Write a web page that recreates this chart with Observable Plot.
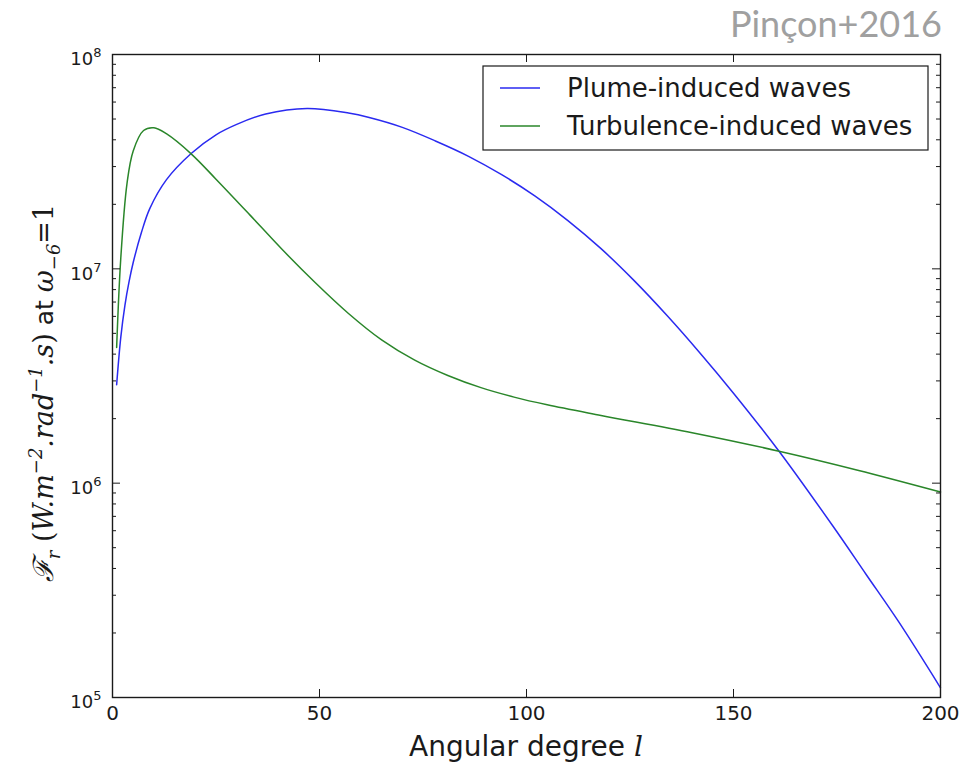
<!DOCTYPE html>
<html><head><meta charset="utf-8">
<script src="https://cdn.jsdelivr.net/npm/d3@7"></script>
<script src="https://cdn.jsdelivr.net/npm/@observablehq/plot@0.6"></script>
<style>body{margin:0;background:#fff;} #chart{width:973px;height:764px;}</style>
</head><body><div id="chart"></div>
<script>
// Angular degree l and flux values
const lPlume = [1, 2, 3, 4, 5, 7, 9, 13, 19, 25, 30, 37, 47, 57, 62, 70, 78, 86, 94, 102, 110, 118, 126, 134, 142, 150, 161, 174, 182, 190, 200];
const fPlume = [2.88e6, 4.79e6, 6.76e6, 8.71e6, 1.07e7, 1.48e7, 1.91e7, 2.6e7, 3.45e7, 4.22e7, 4.72e7, 5.28e7, 5.6e7, 5.33e7, 5.08e7, 4.57e7, 3.95e7, 3.35e7, 2.75e7, 2.19e7, 1.68e7, 1.242e7, 8.81e6, 6.04e6, 4.03e6, 2.63e6, 1.41e6, 6.31e5, 3.76e5, 2.24e5, 1.11e5];
const lTurb = [1, 2, 3.5, 5, 7.5, 10, 13, 19, 25, 33, 41, 49, 57, 65, 73, 81, 89, 97, 105, 118, 140, 161, 180, 200];
const fTurb = [4.3e6, 1.12e7, 2.5e7, 3.55e7, 4.42e7, 4.55e7, 4.27e7, 3.44e7, 2.62e7, 1.8e7, 1.23e7, 8.61e6, 6.19e6, 4.66e6, 3.75e6, 3.18e6, 2.79e6, 2.52e6, 2.32e6, 2.07e6, 1.72e6, 1.41e6, 1.15e6, 9.1e5];
const seriesNames = ["Plume-induced waves", "Turbulence-induced waves"];
const seriesColors = ["#2a2af0", "#2a862a"];
const xTicks = [0, 50, 100, 150, 200];
const yTicks = [1e5, 1e6, 1e7, 1e8];
const minorMultipliers = [2, 3, 4, 5, 6, 7, 8, 9];

const W = 973, H = 764, mL = 112, mR = 33, mT = 54, mB = 67;
const pw = W - mL - mR, ph = H - mT - mB;
const INK = "#1a1a1a";

const plume = lPlume.map((l, i) => ({l, f: fPlume[i]}));
const turb = lTurb.map((l, i) => ({l, f: fTurb[i]}));
const yMinor = yTicks.slice(0, -1).flatMap(d => minorMultipliers.map(m => m * d));

const svg = Plot.plot({
  width: W, height: H,
  marginLeft: mL, marginRight: mR, marginTop: mT, marginBottom: mB,
  x: {domain: [0, 200]},
  y: {type: "log", domain: [1e5, 1e8]},
  style: {fontFamily: "'DejaVu Sans', sans-serif", fontSize: "20px", color: INK, background: "#fff", overflow: "visible"},
  marks: [
    Plot.line(plume, {x: "l", y: "f", stroke: seriesColors[0], strokeWidth: 1.5, curve: "catmull-rom"}),
    Plot.line(turb, {x: "l", y: "f", stroke: seriesColors[1], strokeWidth: 1.5, curve: "catmull-rom"}),
    Plot.tickX(xTicks, {x: d => d, insetTop: ph - 8, stroke: INK}),
    Plot.tickX(xTicks, {x: d => d, insetBottom: ph - 8, stroke: INK}),
    Plot.tickY(yTicks, {y: d => d, insetRight: pw - 8, stroke: INK}),
    Plot.tickY(yTicks, {y: d => d, insetLeft: pw - 8, stroke: INK}),
    Plot.tickY(yMinor, {y: d => d, insetRight: pw - 4, stroke: INK}),
    Plot.tickY(yMinor, {y: d => d, insetLeft: pw - 4, stroke: INK}),
    Plot.axisX({ticks: xTicks, tickSize: 0, tickPadding: 8, label: null, fontSize: 20, tickFormat: d => String(d)}),
    Plot.axisY({ticks: yTicks, tickSize: 0, tickPadding: 11, label: null, fontSize: 18, dy: 5,
      tickFormat: d => "10|" + Math.round(Math.log10(d))}),
    Plot.frame({stroke: INK, strokeWidth: 1.4})
  ]
});
document.getElementById("chart").appendChild(svg);

const s = d3.select(svg);

// y tick labels as 10 with superscript exponent
s.selectAll('g[aria-label="y-axis tick label"] text').each(function() {
  const t = d3.select(this);
  const [base, ex] = this.textContent.split("|");
  t.text(null);
  t.append("tspan").text(base);
  t.append("tspan").attr("font-size", 13).attr("dy", -8).text(ex);
});

// Source note
s.append("text").attr("x", 942).attr("y", 37).attr("text-anchor", "end")
  .attr("font-family", "Lato, 'Open Sans', sans-serif").attr("font-size", 36).attr("fill", "#a0a0a0")
  .text("Pinçon+2016");

// X label
const xl = s.append("text").attr("x", 526).attr("y", 756).attr("text-anchor", "middle")
  .attr("font-family", "'DejaVu Sans', sans-serif").attr("font-size", 28).attr("fill", INK);
xl.append("tspan").text("Angular degree ");
xl.append("tspan").attr("font-family", "'DejaVu Serif', serif").attr("font-style", "italic").text("l");

// Y label
const yl = s.append("text").attr("transform", "translate(53,393) rotate(-90)").attr("text-anchor", "middle")
  .attr("font-family", "'DejaVu Serif', serif").attr("font-size", 27).attr("fill", INK);
const MATH = {"font-style": "italic"};
function span(t, opts = {}) {
  const sp = yl.append("tspan").text(t);
  for (const k in opts) sp.attr(k, opts[k]);
  return sp;
}
span("\u2131", {"font-style": "italic", "font-size": 28});
span("r", {"font-style": "italic", "font-size": 18, dy: 7});
span(" (", {dy: -7});
span("W.m", MATH);
span("\u22122", {"font-style": "italic", "font-size": 18, dy: -11});
span(".rad", {"font-style": "italic", dy: 11});
span("\u22121", {"font-style": "italic", "font-size": 18, dy: -11});
span(".s", {"font-style": "italic", dy: 11});
span(")");
span(" at ", {"font-family": "'DejaVu Sans', sans-serif", "font-size": 25});
span("\u03c9", MATH);
span("\u22126", {"font-style": "italic", "font-size": 18, dy: 7});
span("=1", {dy: -7});

// Legend
const lg = s.append("g");
lg.append("rect").attr("x", 483).attr("y", 66).attr("width", 445).attr("height", 84)
  .attr("fill", "#fff").attr("stroke", INK).attr("stroke-width", 1.2);
seriesNames.forEach((name, i) => {
  const yy = 88 + i * 38;
  lg.append("line").attr("x1", 500).attr("x2", 540).attr("y1", yy).attr("y2", yy)
    .attr("stroke", seriesColors[i]).attr("stroke-width", 1.5);
  lg.append("text").attr("x", 567).attr("y", yy).attr("dy", "0.36em").attr("text-anchor", "start")
    .attr("font-family", "'DejaVu Sans', sans-serif").attr("font-size", 26).attr("fill", INK)
    .text(name);
});
</script>
</body></html>
